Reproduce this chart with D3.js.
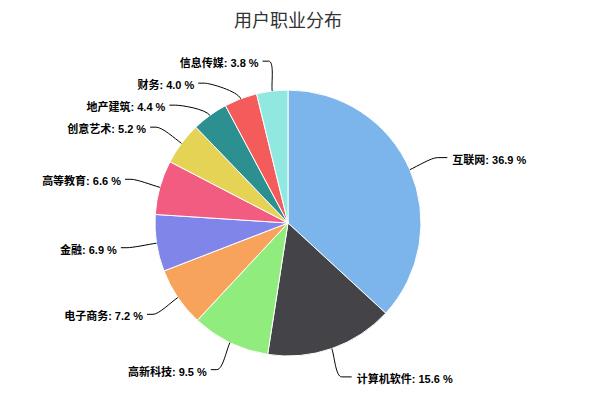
<!DOCTYPE html>
<html>
<head>
<meta charset="utf-8">
<script src="https://cdn.jsdelivr.net/npm/d3@7"></script>
<style>
  body { margin: 0; background: #fff; }
  svg { display: block; font-family: "Liberation Sans", Arial, "Noto Sans CJK SC", sans-serif; }
</style>
</head>
<body>
<div class="view"></div>
<script>
var categories = ["互联网", "计算机软件", "高新科技", "电子商务", "金融", "高等教育", "创意艺术", "地产建筑", "财务", "信息传媒"];
var shares = [36.9, 15.6, 9.5, 7.2, 6.9, 6.6, 5.2, 4.4, 4.0, 3.8];
var colors = ["#7cb5ec", "#434348", "#90ed7d", "#f7a35c", "#8085e9", "#f15c80", "#e4d354", "#2b908f", "#f45b5b", "#91e8e1"];

var width = 615, height = 401;
var cx = 288, cy = 223, radius = 133;
var labelRadius = radius + 30;
var minGap = 22;

var data = categories.map(function(c, i) {
  return { name: c, value: shares[i], color: colors[i] };
});

var svg = d3.select(".view")
  .append("svg")
  .attr("width", width)
  .attr("height", height);

svg.append("text")
  .attr("x", cx)
  .attr("y", 27)
  .attr("text-anchor", "middle")
  .attr("fill", "#333333")
  .style("font-size", "18px")
  .text("用户职业分布");

var pie = d3.pie()
  .sort(null)
  .value(function(d) { return d.value; });

var arcs = pie(data);

var arc = d3.arc()
  .innerRadius(0)
  .outerRadius(radius);

var g = svg.append("g")
  .attr("transform", "translate(" + cx + "," + cy + ")");

g.selectAll(".slice")
  .data(arcs)
  .enter()
  .append("path")
  .attr("class", "slice")
  .attr("d", arc)
  .attr("fill", function(d) { return d.data.color; })
  .attr("stroke", "#ffffff")
  .attr("stroke-width", 1)
  .attr("stroke-linejoin", "round");

// label layout: natural position on a larger circle, then push apart vertically
arcs.forEach(function(d) {
  d.mid = (d.startAngle + d.endAngle) / 2;
  d.right = Math.sin(d.mid) >= 0;
  d.ly = -Math.cos(d.mid) * labelRadius;
});

[true, false].forEach(function(side) {
  var group = arcs.filter(function(d) { return d.right === side; })
    .sort(function(a, b) { return a.ly - b.ly; });
  var prev = -Infinity;
  group.forEach(function(d) {
    d.ly = Math.max(d.ly, prev + minGap);
    prev = d.ly;
  });
});

arcs.forEach(function(d) {
  var dy = Math.min(Math.abs(d.ly), labelRadius);
  var dx = Math.sqrt(labelRadius * labelRadius - dy * dy);
  d.lx = d.right ? dx : -dx;
  d.ex = Math.sin(d.mid) * radius;
  d.ey = -Math.cos(d.mid) * radius;
});

g.selectAll(".connector")
  .data(arcs)
  .enter()
  .append("path")
  .attr("class", "connector")
  .attr("fill", "none")
  .attr("stroke", "#000")
  .attr("stroke-width", 1)
  .attr("d", function(d) {
    var s = d.right ? 1 : -1;
    var tx = d.lx + s * (d.right ? 10 : 6);
    var c1x = d.lx - s * 6;
    var ox = d.ex + Math.sin(d.mid) * 8, oy = d.ey - Math.cos(d.mid) * 8;
    return "M" + tx + "," + d.ly +
      "L" + d.lx + "," + d.ly +
      "C" + c1x + "," + d.ly + " " + ox + "," + oy + " " + d.ex + "," + d.ey;
  });

g.selectAll(".label")
  .data(arcs)
  .enter()
  .append("text")
  .attr("class", "label")
  .attr("x", function(d) { return d.right ? d.lx + 15 : d.lx - 10; })
  .attr("y", function(d) { return d.ly + 6; })
  .attr("text-anchor", function(d) { return d.right ? "start" : "end"; })
  .attr("fill", "#000")
  .style("font-size", "11px")
  .style("font-weight", "bold")
  .text(function(d) { return d.data.name + ": " + d.data.value.toFixed(1) + " %"; });
</script>
</body>
</html>
